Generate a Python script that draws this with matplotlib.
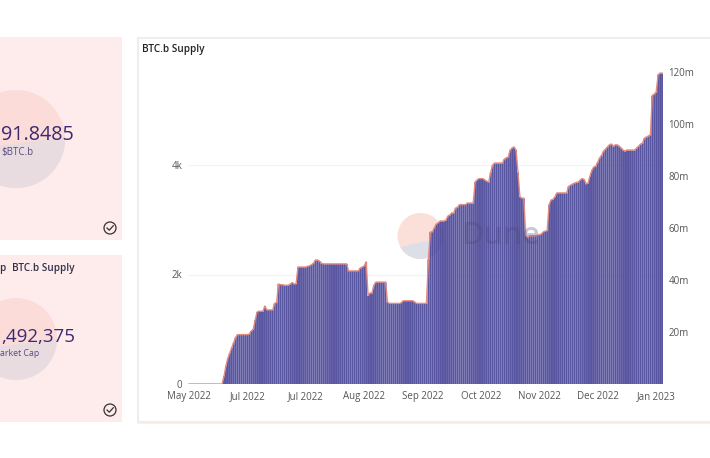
import numpy as np
import matplotlib
matplotlib.use("Agg")
import matplotlib.pyplot as plt
from matplotlib.patches import Circle, Polygon, Rectangle

plt.rcParams['font.family'] = ['Open Sans', 'DejaVu Sans']

# Market cap in $m, one value per day
cap_launch = [0] * 18 + [3, 7, 10, 12, 14, 16, 18, 19, 19, 19, 19, 19, 19, 19.2, 20.4, 21]
cap_june = [24.6, 27.7, 28, 28, 28, 30, 28.5, 28.5, 28.5, 28.5, 31, 31.3, 38.5, 38.2, 38.2, 38, 38, 38, 38.4, 39, 38.5, 38.5]
cap_july = [45, 45, 45, 45, 45, 45.3, 45.5, 45.9, 46.5, 47.7, 47.7, 47.3, 46.5] + [46.2] * 13 + [43.5] * 6 + [44.6, 45, 45.4, 47]
cap_august = [34, 35, 35, 38] + [39.2] * 6 + [31.5] + [31] * 6 + [31.2] + [32] * 6 + [31.5] + [31] * 6
cap_september = [48, 58.5, 58.5, 60, 61.5, 62, 62.7, 62.7, 62.7, 63, 64.6, 65, 65.8, 65.8, 67.7, 68, 69, 69, 69, 69, 69.6, 69.6, 69.6, 69.6]
cap_october = [77.7, 78.5, 79, 79, 79, 78.5, 78, 77.7, 81.5, 84.2, 85, 85, 85, 85, 85, 86.5, 87, 87.3, 90, 90.8, 91.2, 90, 81.5, 72, 71.5, 71.5]
cap_dip = [57, 56.5, 57, 57, 57, 57, 57.2, 57.4, 57.7, 58.5, 58.8, 59]
cap_november = [69, 70.8, 71, 72] + [73.5] * 6 + [76, 76.5, 76.9, 77.3, 77.5, 77.7, 78.5, 79, 78.7, 77, 77.3]
cap_december = [80, 82.3, 83.5, 83.8, 85.4, 87, 88, 89.6, 90.4, 91.2, 92, 92.3, 91.5, 92, 92, 91.5, 90.8, 90, 89.6,
                90, 90, 90, 90, 90, 90.8, 91.5, 92.3, 92.7, 94.6, 95, 95.4, 95.8]
cap_january = [111, 111.5, 112.3, 119, 119.6, 119.6]

market_cap_m = np.array(cap_launch + cap_june + cap_july + cap_august + cap_september +
                        cap_october + cap_dip + cap_november + cap_december + cap_january)
usd_m_per_k_btc = 21.09
supply_k = market_cap_m / usd_m_per_k_btc

x_tick_labels = ['May 2022', 'Jul 2022', 'Jul 2022', 'Aug 2022', 'Sep 2022', 'Oct 2022', 'Nov 2022', 'Dec 2022', 'Jan 2023']
x_tick_days = [0, 30, 60, 90, 120, 150, 180, 210, 240]
left_ticks = [0, 2, 4]
left_labels = ['0', '2k', '4k']
right_ticks = [20, 40, 60, 80, 100, 120]
right_labels = ['20m', '40m', '60m', '80m', '100m', '120m']

W, H = 710, 458
fig = plt.figure(figsize=(W / 100, H / 100), dpi=100, facecolor='white')

def pie_circle(axes, cx, cy, r, p_left, p_right, top, bottom):
    """Logo disc: one colour, with a lower part below the chord p_left-p_right."""
    disc = Circle((cx, cy), r, fc=top, ec='none')
    axes.add_patch(disc)
    low = Polygon([p_left, p_right, (cx + r + 2, cy + r + 2), (cx - r - 2, cy + r + 2)], fc=bottom, ec='none')
    axes.add_patch(low)
    low.set_clip_path(disc)

# page layer in pixel coordinates (cards, watermark circles)
bg = fig.add_axes([0, 0, 1, 1], zorder=0)
bg.set_xlim(0, W); bg.set_ylim(H, 0); bg.axis('off')
CARD = '#fdeceb'
bg.add_patch(Rectangle((-5, 37), 127, 203, fc=CARD, ec='none'))
bg.add_patch(Rectangle((-5, 255), 127, 167, fc=CARD, ec='none'))
pie_circle(bg, 16, 139, 49, (-33, 150), (65, 137), '#fbdcd9', '#e9dce0')
pie_circle(bg, 16, 339, 41, (-25, 350), (57, 339), '#fbdcd9', '#e9dce0')
bg.add_patch(Rectangle((137.5, 37.5), 590, 384, fc='white', ec='#ededed', lw=1.5))
bg.plot([137.5, 710], [421.5, 421.5], color='#f8ebe8', lw=1.8)
pie_circle(bg, 420.5, 236, 23, (400, 247), (444, 237), '#fbe0da', '#dcdfe8')

# chart
ax = fig.add_axes([188 / W, 1 - 384 / H, 475 / W, 324 / H], zorder=1)
ax.patch.set_alpha(0)
days = np.arange(len(supply_k))
bars = ax.bar(days, supply_k, width=0.98, color='#4a4699', alpha=0.92, linewidth=0, zorder=2)
for b in bars:
    b.set_snap(False)
ax.set_xlim(-0.5, len(days) - 0.5)
ax.set_ylim(0, 324 / 54.75)
ax.set_xticks(x_tick_days, x_tick_labels)
ax.set_yticks(left_ticks, left_labels)
ax.grid(axis='y', color='#f3f3f3', lw=0.8, zorder=0)
ax.set_axisbelow(True)
ax.tick_params(length=0, labelsize=7, labelcolor='#555555')
ax.tick_params(axis='x', pad=5)
ax.tick_params(axis='y', pad=4)
for s in ax.spines.values():
    s.set_visible(False)

ax2 = ax.twinx()
ax2.patch.set_alpha(0)
ax2.plot(days, market_cap_m, color='#e58a7f', lw=1.0, zorder=3, solid_joinstyle='round')
ax2.set_ylim(0, 324 / 2.6)
ax2.set_yticks(right_ticks, right_labels)
ax2.tick_params(length=0, labelsize=7, labelcolor='#555555', pad=4)
for s in ax2.spines.values():
    s.set_visible(False)

# top layer: watermark word and card text
fg = fig.add_axes([0, 0, 1, 1], zorder=3)
fg.set_xlim(0, W); fg.set_ylim(H, 0); fg.axis('off'); fg.patch.set_alpha(0)
fg.text(461, 236, 'Dune', fontsize=22, fontweight='semibold', color='#4a4a78', alpha=0.3, va='center', ha='left')

fg.text(142, 49.5, 'BTC.b Supply', fontsize=7.2, fontweight='semibold', color='#222222', va='center')
fg.text(12, 268.5, 'BTC.b Supply', fontsize=7.2, fontweight='semibold', color='#33304a', va='center')
fg.text(5, 268.5, 'p', fontsize=7.2, fontweight='semibold', color='#33304a', va='center', ha='right')
fg.text(74, 135, '91.8485', fontsize=14.2, color='#3c2a70', va='center', ha='right')
fg.text(33, 153, '$BTC.b', fontsize=7, color='#5a4a80', va='center', ha='right')
fg.text(75, 336.5, ',492,375', fontsize=13.5, color='#3c2a70', va='center', ha='right')
fg.text(39, 354, 'arket Cap', fontsize=6.3, color='#5a4a80', va='center', ha='right')
for cy in (228, 410):
    fg.add_patch(Circle((110, cy), 6, fc='none', ec='#333333', lw=0.9))
    fg.plot([107, 109.3, 113.2], [cy, cy + 2.2, cy - 2.2], color='#333333', lw=0.9)

fig.savefig('out.png', dpi=100)
print(len(supply_k))
